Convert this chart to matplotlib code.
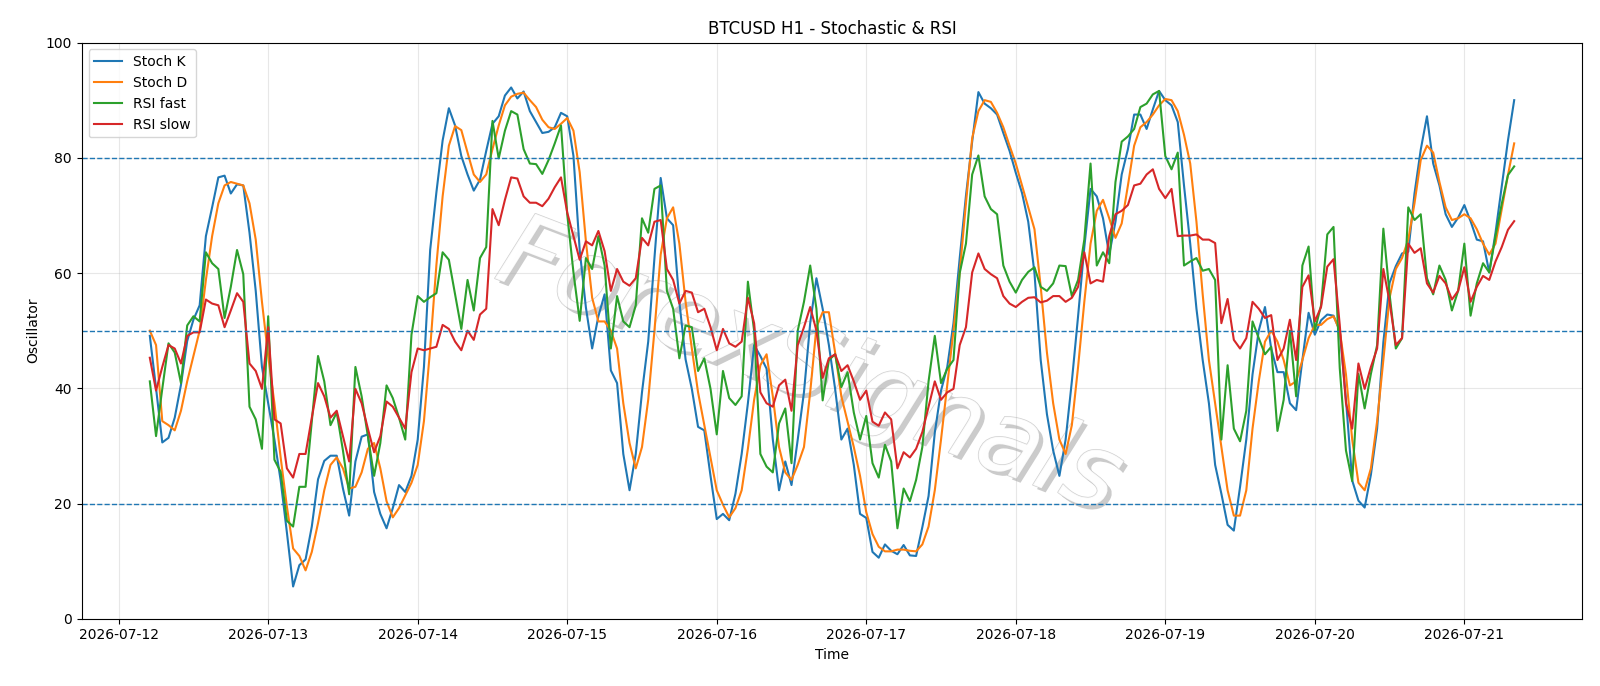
import matplotlib
matplotlib.use("Agg")
import matplotlib.pyplot as plt
import matplotlib.dates as mdates
import matplotlib.patheffects as pe
import pandas as pd

start_time = "2026-07-12 05:00"

stoch_k = [
    49.1, 40.0, 30.6, 31.4, 34.9, 40.6, 48.2, 51.9, 54.4, 66.4,
    71.4, 76.6, 76.9, 73.8, 75.4, 75.2, 67.0, 56.9, 43.7, 37.4,
    31.1, 24.0, 15.0, 5.6, 9.3, 10.3, 16.0, 24.2, 27.4, 28.3,
    28.3, 22.6, 17.9, 27.3, 31.6, 32.0, 22.0, 18.2, 15.7, 19.2,
    23.2, 22.0, 24.8, 31.1, 43.7, 64.0, 74.0, 83.0, 88.6, 85.6,
    80.3, 77.1, 74.3, 76.2, 81.2, 85.9, 87.2, 90.8, 92.2, 90.3,
    91.5, 88.1, 86.2, 84.3, 84.5, 85.3, 87.8, 87.2, 80.3, 64.0,
    54.0, 46.9, 52.5, 56.3, 43.1, 40.9, 28.6, 22.3, 28.6, 39.3,
    48.1, 62.6, 76.5, 69.5, 68.3, 55.0, 45.0, 39.9, 33.3, 32.7,
    24.8, 17.3, 18.2, 17.1, 21.7, 28.6, 37.4, 47.5, 45.6, 43.4,
    31.1, 22.3, 27.3, 23.2, 31.1, 39.3, 51.3, 59.1, 53.8, 47.5,
    39.9, 31.1, 33.0, 26.7, 18.2, 17.5, 11.6, 10.6, 12.9, 11.8,
    11.2, 12.8, 11.0, 10.9, 15.9, 21.3, 32.3, 39.6, 43.7, 51.3,
    62.6, 73.4, 82.8, 91.4, 89.4, 88.6, 87.5, 84.3, 81.2, 77.4,
    73.9, 68.9, 60.0, 44.9, 35.5, 29.2, 24.8, 31.1, 41.2, 52.5,
    64.5, 74.6, 73.3, 69.5, 63.2, 68.9, 77.1, 81.5, 87.5, 87.5,
    85.0, 88.4, 91.6, 90.0, 89.1, 86.2, 75.2, 65.1, 53.8, 44.9,
    37.4, 26.7, 21.7, 16.3, 15.3, 22.9, 31.1, 42.4, 50.0, 54.1,
    46.9, 42.8, 42.8, 37.4, 36.2, 44.9, 53.1, 49.3, 51.8, 52.8,
    52.6, 50.0, 38.0, 24.0, 20.5, 19.3, 25.0, 33.0, 48.0, 58.3,
    61.2, 63.4, 63.7, 73.8, 81.4, 87.2, 79.0, 75.2, 70.2, 68.0,
    69.6, 71.8, 69.0, 65.8, 65.5, 60.1, 67.0, 75.0, 83.0, 90.0,
]

stoch_d = [
    50.0, 47.5, 34.3, 33.6, 32.7, 36.1, 41.2, 45.6, 50.0, 58.8,
    66.4, 72.1, 75.2, 75.8, 75.5, 75.2, 72.1, 65.8, 55.0, 45.6,
    37.4, 28.0, 19.5, 12.2, 10.9, 8.4, 11.6, 16.6, 22.3, 26.7,
    28.0, 26.1, 22.6, 22.9, 25.4, 29.5, 30.5, 26.1, 20.4, 17.6,
    19.2, 21.4, 23.6, 26.7, 34.3, 46.9, 61.4, 73.3, 82.1, 85.5,
    84.8, 80.9, 77.1, 75.8, 77.1, 81.5, 85.6, 89.1, 90.6, 91.1,
    91.3, 90.0, 88.8, 86.6, 85.3, 85.0, 85.9, 86.9, 84.7, 77.5,
    65.5, 55.7, 51.6, 51.6, 50.0, 46.9, 37.4, 30.5, 26.1, 29.8,
    38.0, 50.0, 63.2, 69.5, 71.4, 65.1, 55.0, 46.9, 39.3, 33.6,
    28.0, 22.3, 19.8, 17.6, 19.2, 22.3, 29.5, 38.0, 44.0, 45.9,
    38.6, 29.8, 25.4, 24.1, 26.7, 29.8, 39.3, 50.6, 53.2, 53.2,
    46.2, 38.6, 34.2, 29.8, 24.8, 18.5, 14.7, 12.5, 11.7, 11.7,
    12.0, 12.0, 11.8, 11.7, 12.9, 16.0, 22.3, 31.1, 40.6, 50.0,
    60.1, 72.1, 83.4, 88.1, 90.0, 89.7, 87.8, 85.3, 82.1, 79.0,
    75.2, 71.4, 67.6, 57.6, 46.2, 37.4, 31.1, 28.6, 33.6, 43.7,
    55.0, 65.1, 70.8, 72.7, 69.5, 66.1, 68.6, 75.2, 82.1, 85.3,
    86.2, 87.5, 89.1, 90.2, 90.0, 88.1, 84.0, 79.0, 68.9, 56.3,
    44.9, 37.4, 29.8, 22.3, 17.9, 17.9, 22.3, 33.0, 41.2, 48.1,
    50.0, 48.1, 44.9, 40.5, 41.2, 44.9, 48.7, 51.0, 51.0, 52.0,
    52.5, 50.0, 42.4, 31.1, 23.6, 22.3, 26.1, 34.3, 44.9, 55.7,
    60.7, 62.6, 65.8, 72.1, 79.6, 82.1, 80.9, 75.8, 71.4, 69.2,
    69.5, 70.2, 69.5, 67.6, 65.1, 63.2, 65.1, 71.0, 77.0, 82.5,
]

rsi_fast = [
    41.2, 31.7, 39.9, 47.8, 46.2, 40.9, 50.9, 52.5, 51.6, 63.6,
    61.7, 60.7, 52.2, 57.6, 64.0, 59.8, 36.8, 34.6, 29.5, 52.5,
    27.6, 25.5, 17.0, 16.0, 22.9, 22.9, 34.3, 45.6, 41.2, 33.6,
    35.8, 29.2, 21.6, 43.7, 38.6, 31.7, 24.8, 30.5, 40.5, 38.3,
    34.9, 31.1, 49.3, 56.0, 55.0, 55.8, 56.5, 63.6, 62.3, 56.3,
    50.3, 58.8, 53.5, 62.6, 64.5, 86.4, 79.9, 84.7, 88.1, 87.5,
    81.5, 79.0, 78.9, 77.2, 79.6, 82.5, 85.6, 70.2, 60.1, 51.7,
    62.6, 60.7, 66.4, 61.3, 46.9, 56.0, 51.6, 50.6, 54.4, 69.5,
    67.0, 74.6, 75.2, 56.9, 53.8, 45.2, 50.9, 50.6, 43.0, 45.2,
    39.9, 32.0, 43.0, 38.3, 37.1, 38.6, 58.5, 50.0, 28.6, 26.4,
    25.4, 33.9, 36.5, 27.0, 50.0, 55.0, 61.3, 53.8, 37.9, 44.9,
    45.9, 40.2, 42.8, 35.8, 31.1, 35.2, 27.0, 24.5, 30.2, 27.3,
    15.7, 22.6, 20.4, 24.1, 29.8, 41.2, 49.1, 40.9, 43.4, 44.9,
    60.0, 65.1, 77.1, 80.4, 73.3, 71.1, 70.2, 61.3, 58.5, 56.6,
    58.8, 60.2, 61.0, 57.6, 56.9, 58.2, 61.3, 61.2, 56.0, 58.8,
    65.8, 79.0, 61.3, 63.6, 61.7, 75.8, 82.8, 83.7, 85.0, 88.8,
    89.4, 91.0, 91.6, 80.3, 78.0, 80.9, 61.3, 62.0, 62.6, 60.4,
    60.7, 58.8, 31.1, 44.0, 33.0, 30.8, 36.1, 51.6, 48.7, 45.9,
    47.2, 32.6, 38.0, 50.0, 38.6, 61.3, 64.6, 50.0, 54.4, 66.7,
    68.0, 43.5, 29.2, 23.9, 42.5, 36.5, 42.5, 47.5, 67.7, 56.3,
    46.9, 48.7, 71.4, 69.2, 70.2, 59.1, 56.3, 61.3, 58.8, 53.5,
    56.9, 65.1, 52.6, 58.2, 61.7, 60.1, 66.4, 72.0, 77.0, 78.5,
]

rsi_slow = [
    45.3, 39.6, 43.7, 47.5, 46.9, 44.3, 49.1, 49.7, 49.7, 55.4,
    54.7, 54.4, 50.6, 53.5, 56.5, 55.0, 44.3, 43.0, 39.9, 50.6,
    34.6, 33.9, 26.1, 24.5, 28.6, 28.6, 34.9, 40.9, 38.6, 34.9,
    36.1, 31.7, 27.3, 39.9, 37.4, 33.0, 28.9, 31.7, 37.7, 36.8,
    34.9, 33.0, 42.8, 46.9, 46.6, 46.9, 47.2, 51.0, 50.3, 48.1,
    46.6, 50.0, 48.4, 52.8, 53.8, 71.1, 68.3, 72.7, 76.6, 76.4,
    73.3, 72.2, 72.2, 71.6, 72.9, 74.9, 76.6, 70.5, 66.4, 62.3,
    65.5, 64.8, 67.3, 63.8, 56.9, 60.7, 58.5, 57.8, 59.1, 66.1,
    64.8, 68.9, 69.2, 60.7, 58.8, 54.7, 56.9, 56.6, 53.2, 53.8,
    50.6, 46.6, 50.3, 47.8, 47.2, 48.1, 55.7, 51.3, 39.3, 37.4,
    36.8, 40.5, 41.5, 36.1, 47.5, 50.6, 54.1, 50.0, 41.8, 45.2,
    45.9, 43.0, 44.0, 41.2, 38.0, 39.6, 34.2, 33.5, 35.8, 34.6,
    26.1, 28.9, 28.0, 29.5, 32.4, 36.8, 41.2, 38.0, 39.3, 39.9,
    47.5, 50.6, 60.1, 63.4, 60.7, 59.8, 59.1, 56.0, 54.7, 54.1,
    55.0, 55.7, 55.8, 54.9, 55.2, 56.0, 56.0, 55.0, 55.7, 57.6,
    63.6, 58.2, 58.8, 58.5, 66.4, 70.2, 70.8, 71.8, 75.2, 75.5,
    77.1, 78.0, 74.6, 73.0, 74.6, 66.4, 66.5, 66.5, 66.7, 65.8,
    65.8, 65.2, 51.3, 55.5, 48.4, 46.9, 48.7, 55.0, 53.8, 52.2,
    52.7, 44.9, 46.9, 51.9, 44.9, 57.6, 59.6, 51.6, 54.1, 61.1,
    62.4, 51.0, 37.4, 33.0, 44.3, 39.9, 43.7, 46.9, 60.7, 55.0,
    47.5, 48.7, 65.1, 63.5, 64.3, 58.2, 56.6, 59.5, 58.2, 55.4,
    56.9, 61.0, 55.0, 57.6, 59.5, 58.8, 62.0, 64.5, 67.5, 69.0,
]

levels = [80, 50, 20]
title = "BTCUSD H1 - Stochastic & RSI"
watermark = "ForexSignals"

times = pd.date_range(start_time, periods=len(stoch_k), freq="h")

fig = plt.figure(figsize=(16, 6.86), dpi=100)
ax = fig.add_axes([0.051, 0.098, 0.938, 0.840])

ax.plot(times, stoch_k, label="Stoch K", linewidth=1.5)
ax.plot(times, stoch_d, label="Stoch D", linewidth=1.5)
ax.plot(times, rsi_fast, label="RSI fast", linewidth=1.5)
ax.plot(times, rsi_slow, label="RSI slow", linewidth=1.5)

for lv in levels:
    ax.axhline(lv, linestyle="--", linewidth=1, color="C0")

ax.set_ylim(0, 100)
ax.set_title(title, fontsize=12)
ax.set_xlabel("Time")
ax.set_ylabel("Oscillator")
ax.grid(True, alpha=0.3)
ax.xaxis.set_major_locator(mdates.DayLocator())
ax.xaxis.set_major_formatter(mdates.DateFormatter("%Y-%m-%d"))
ax.legend(loc="upper left")

ax.text(0.485, 0.435, watermark, transform=ax.transAxes, fontsize=74,
        color="white", alpha=0.85, rotation=-21, ha="center", va="center",
        style="italic", zorder=0, rotation_mode="anchor",
        path_effects=[pe.withSimplePatchShadow(offset=(3, -3), shadow_rgbFace="#8c8c8c", alpha=0.45),
                      pe.Stroke(linewidth=1.0, foreground="#c8c8c8"),
                      pe.Normal()])

fig.savefig("out.png", dpi=100)
